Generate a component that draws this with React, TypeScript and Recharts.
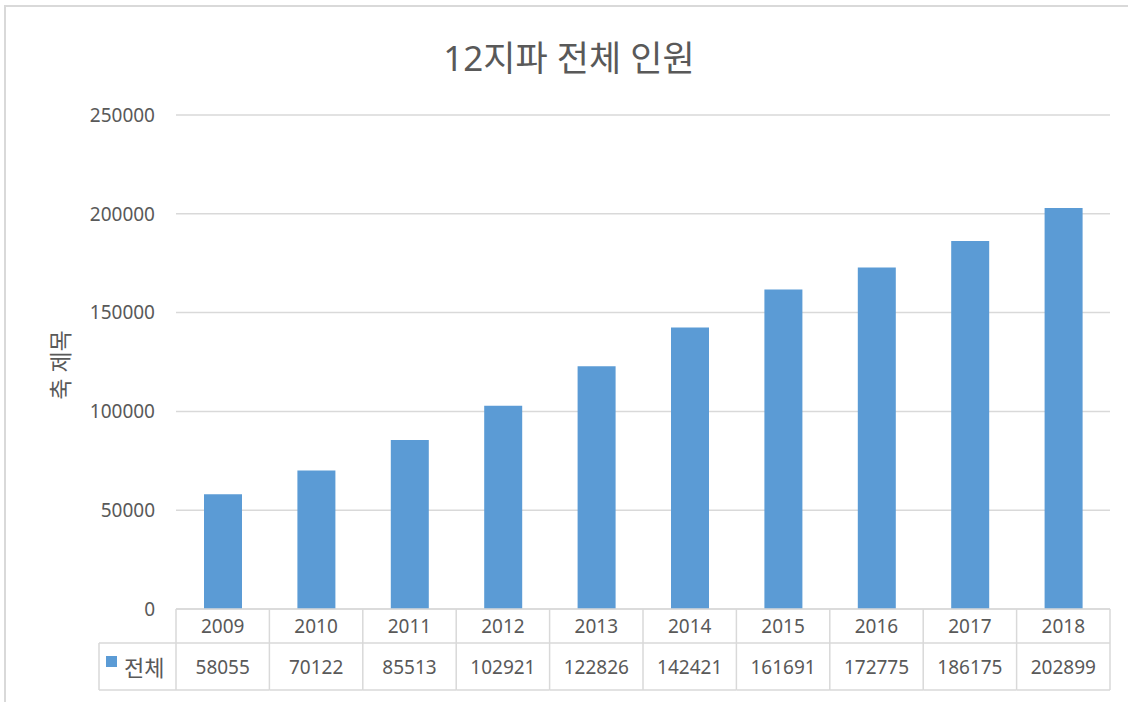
import React from 'react';
import { BarChart, Bar, XAxis, YAxis, CartesianGrid } from 'recharts';

const YEARS = ['2009', '2010', '2011', '2012', '2013', '2014', '2015', '2016', '2017', '2018'];
const TOTALS = [58055, 70122, 85513, 102921, 122826, 142421, 161691, 172775, 186175, 202899];
const Y_TICKS = [0, 50000, 100000, 150000, 200000, 250000];
const SERIES_NAME = '전체';
const TITLE = '12지파 전체 인원';
const Y_LABEL = '축 제목';

const data = YEARS.map((y, i) => ({ year: y, total: TOTALS[i] }));

const W = 1128;
const H = 702;
const PLOT_LEFT = 176;
const PLOT_RIGHT = 1110;
const BAND = (PLOT_RIGHT - PLOT_LEFT) / YEARS.length;
const ROW1 = 34;
const ROW2 = 47;
const LEGEND_LEFT = 99;
const GRID = '#d9d9d9';
const TEXT = '#595959';
const BAR = '#5B9BD5';
const FONT = '"Noto Sans", "Noto Sans CJK KR", sans-serif';

const TableTick = (props: any) => {
  const { x, y, payload } = props;
  const i = payload.index;
  const left = x - BAND / 2;
  const right = x + BAND / 2;
  const bottom = y + ROW1 + ROW2;
  return (
    <g>
      <line x1={left} y1={y} x2={left} y2={bottom} stroke={GRID} strokeWidth={1.5} />
      {i === YEARS.length - 1 && (
        <line x1={right} y1={y} x2={right} y2={bottom} stroke={GRID} strokeWidth={1.5} />
      )}
      <line x1={left} y1={y + ROW1} x2={right} y2={y + ROW1} stroke={GRID} strokeWidth={1.5} />
      <line x1={left} y1={bottom} x2={right} y2={bottom} stroke={GRID} strokeWidth={1.5} />
      <text x={x} y={y + ROW1 / 2} textAnchor="middle" dominantBaseline="central" fill={TEXT} fontSize={19} fontFamily={FONT}>
        {payload.value}
      </text>
      <text x={x} y={y + ROW1 + ROW2 / 2} textAnchor="middle" dominantBaseline="central" fill={TEXT} fontSize={19} fontFamily={FONT}>
        {TOTALS[i]}
      </text>
      {i === 0 && (
        <g>
          <line x1={LEGEND_LEFT} y1={y + ROW1} x2={left} y2={y + ROW1} stroke={GRID} strokeWidth={1.5} />
          <line x1={LEGEND_LEFT} y1={bottom} x2={left} y2={bottom} stroke={GRID} strokeWidth={1.5} />
          <line x1={LEGEND_LEFT} y1={y + ROW1} x2={LEGEND_LEFT} y2={bottom} stroke={GRID} strokeWidth={1.5} />
          <rect x={LEGEND_LEFT + 7} y={y + ROW1 + 13} width={11} height={11} fill={BAR} />
          <text x={LEGEND_LEFT + 25} y={y + ROW1 + ROW2 / 2} dominantBaseline="central" fill={TEXT} fontSize={22} fontFamily={FONT}>
            {SERIES_NAME}
          </text>
        </g>
      )}
    </g>
  );
};

const YLabel = (props: any) => {
  const { viewBox } = props;
  const cy = viewBox.y + viewBox.height / 2 + 3;
  const cx = 60;
  return (
    <text x={cx} y={cy} transform={`rotate(-90 ${cx} ${cy})`} textAnchor="middle" dominantBaseline="central" fill={TEXT} fontSize={23} fontFamily={FONT}>
      {Y_LABEL}
    </text>
  );
};

export default function App() {
  return (
    <div style={{ position: 'absolute', left: 0, top: 0, width: W, height: H, background: '#fff', overflow: 'hidden' }}>
      <div style={{ position: 'absolute', left: 4, top: 5, width: W + 50, height: H + 50, border: `2px solid ${GRID}`, boxSizing: 'border-box' }} />
      <div style={{ position: 'absolute', left: 0, width: 1138, top: 36, textAlign: 'center', fontSize: 35, color: TEXT, fontFamily: FONT, lineHeight: '44px' }}>
        {TITLE}
      </div>
      <div style={{ position: 'absolute', left: 0, top: 0 }}>
        <BarChart width={W} height={H} data={data} margin={{ top: 115, right: W - PLOT_RIGHT, left: PLOT_LEFT - 100, bottom: 12 }}>
          <CartesianGrid vertical={false} stroke={GRID} strokeWidth={1.5} />
          <XAxis
            dataKey="year"
            height={ROW1 + ROW2}
            axisLine={{ stroke: GRID, strokeWidth: 1.5 }}
            tickLine={false}
            tickSize={0}
            tickMargin={0}
            interval={0}
            tick={<TableTick />}
          />
          <YAxis
            width={100}
            domain={[0, 250000]}
            ticks={Y_TICKS}
            interval={0}
            axisLine={false}
            tickLine={false}
            tickSize={0}
            tickMargin={21}
            tick={{ fill: TEXT, fontSize: 19, fontFamily: FONT }}
            label={<YLabel />}
          />
          <Bar dataKey="total" fill={BAR} barSize={38} isAnimationActive={false} />
        </BarChart>
      </div>
    </div>
  );
}
